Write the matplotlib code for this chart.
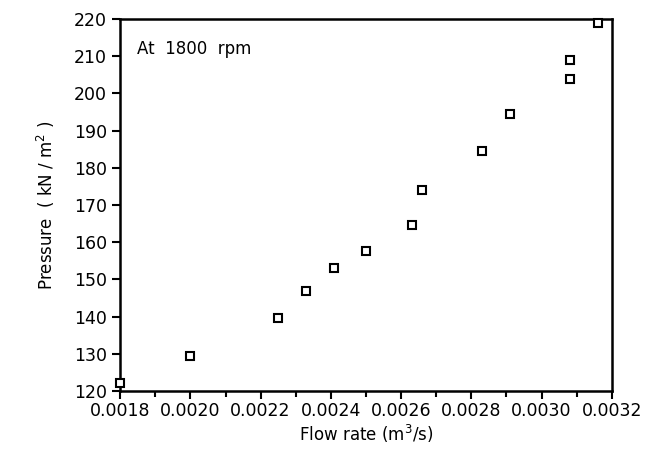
import matplotlib
matplotlib.use("Agg")
import matplotlib.pyplot as plt
from matplotlib.ticker import MultipleLocator, FormatStrFormatter

flow_rate = [0.00180, 0.00200, 0.00225, 0.00233, 0.00241, 0.00250, 0.00263,
             0.00266, 0.00283, 0.00291, 0.00308, 0.00308, 0.00316]
pressure = [122, 129.5, 139.5, 147, 153, 157.5, 164.5,
            174, 184.5, 194.5, 204, 209, 219]

x_ticks = [0.0018, 0.0020, 0.0022, 0.0024, 0.0026, 0.0028, 0.0030, 0.0032]
y_ticks = [120, 130, 140, 150, 160, 170, 180, 190, 200, 210, 220]

fig = plt.figure(figsize=(6.46, 4.54), dpi=100)
ax = fig.add_axes([0.186, 0.139, 0.761, 0.819])

ax.plot(flow_rate, pressure, linestyle="none", marker="s", markersize=6,
        markerfacecolor="white", markeredgecolor="black", markeredgewidth=1.5,
        clip_on=False, zorder=3)

ax.set_xlim(0.0018, 0.0032)
ax.set_ylim(120, 220)
ax.set_xticks(x_ticks)
ax.set_yticks(y_ticks)
ax.xaxis.set_minor_locator(MultipleLocator(0.0001))
ax.xaxis.set_major_formatter(FormatStrFormatter("%.4f"))

for s in ax.spines.values():
    s.set_linewidth(1.8)

ax.tick_params(axis="both", which="major", direction="out", length=6, width=1.5,
               labelsize=12.5, colors="black")
ax.tick_params(axis="x", which="minor", direction="out", length=4, width=1.5)
ax.tick_params(axis="x", which="major", pad=2)

ax.set_xlabel("Flow rate (m$^3$/s)", fontsize=12, labelpad=2)
ax.set_ylabel("Pressure  ( kN / m$^2$ )", fontsize=12, labelpad=12)

ax.text(0.035, 0.92, "At  1800  rpm", transform=ax.transAxes, fontsize=12,
        ha="left", va="center")

fig.savefig("out.png", dpi=100)
